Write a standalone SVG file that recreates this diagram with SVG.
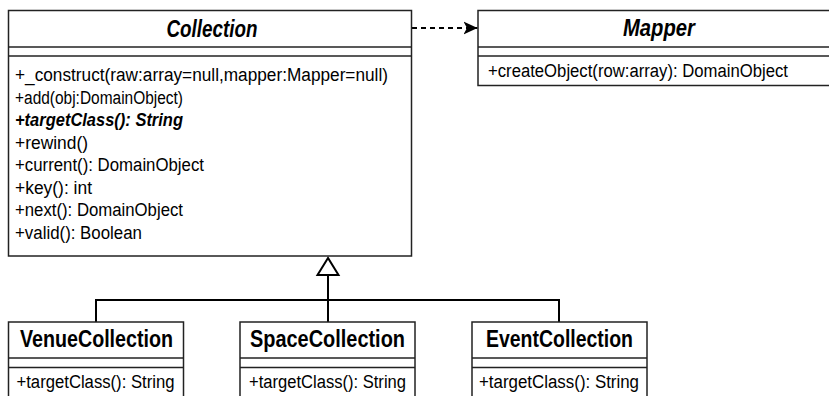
<svg xmlns="http://www.w3.org/2000/svg" width="829" height="396" viewBox="0 0 829 396">
<style>
.box{fill:#fff;stroke:#222;stroke-width:1.5}
.sep{stroke:#222;stroke-width:1.5}
.t{font-family:"Liberation Sans Narrow","Liberation Sans",Arial,sans-serif;font-size:18px;fill:#000}
.title{font-family:"Liberation Sans Narrow","Liberation Sans",Arial,sans-serif;font-size:23px;font-weight:bold;fill:#000;text-anchor:middle}
.it{font-style:italic}
.b{font-weight:bold}
.conn{fill:none;stroke:#000;stroke-width:2}
</style>
<defs>
<marker id="arr" markerWidth="15" markerHeight="14" refX="14" refY="7" orient="auto" markerUnits="userSpaceOnUse">
<path d="M0,0.5 L14,7 L0,13.5 L3.5,7 Z" fill="#000"/>
</marker>
</defs>
<g id="connectors">
<line class="conn" x1="412" y1="28" x2="477.5" y2="28" stroke-dasharray="5,4" marker-end="url(#arr)"/>
<polyline class="conn" points="96,322 96,300 559,300 559,322"/>
<line class="conn" x1="328" y1="275" x2="328" y2="322"/>
<polygon points="328,258 317.5,275 338.5,275" fill="#fff" stroke="#000" stroke-width="2"/>
</g>
<g id="Collection">
<rect class="box" x="8.5" y="10.5" width="403" height="245.5"/>
<line class="sep" x1="8.5" y1="47" x2="411.5" y2="47"/>
<line class="sep" x1="8.5" y1="56" x2="411.5" y2="56"/>
<text class="title it" x="212" y="36.5" textLength="91" lengthAdjust="spacingAndGlyphs">Collection</text>
<text class="t" x="15" y="81" textLength="373" lengthAdjust="spacingAndGlyphs">+_construct(raw:array=null,mapper:Mapper=null)</text>
<text class="t" x="15" y="103.5" textLength="168" lengthAdjust="spacingAndGlyphs">+add(obj:DomainObject)</text>
<text class="t it b" x="15" y="126" textLength="168" lengthAdjust="spacingAndGlyphs">+targetClass(): String</text>
<text class="t" x="15" y="148.5" textLength="73" lengthAdjust="spacingAndGlyphs">+rewind()</text>
<text class="t" x="15" y="171" textLength="189" lengthAdjust="spacingAndGlyphs">+current(): DomainObject</text>
<text class="t" x="15" y="193.5" textLength="77" lengthAdjust="spacingAndGlyphs">+key(): int</text>
<text class="t" x="15" y="216" textLength="168" lengthAdjust="spacingAndGlyphs">+next(): DomainObject</text>
<text class="t" x="15" y="238.5" textLength="127" lengthAdjust="spacingAndGlyphs">+valid(): Boolean</text>
</g>
<g id="Mapper">
<rect class="box" x="478" y="10.5" width="362" height="75"/>
<line class="sep" x1="478" y1="47" x2="840" y2="47"/>
<line class="sep" x1="478" y1="56" x2="840" y2="56"/>
<text class="title it" x="659" y="35.5" textLength="72" lengthAdjust="spacingAndGlyphs">Mapper</text>
<text class="t" x="488" y="77" textLength="300" lengthAdjust="spacingAndGlyphs">+createObject(row:array): DomainObject</text>
</g>
<g id="VenueCollection">
<rect class="box" x="8.5" y="322" width="175" height="80"/>
<line class="sep" x1="8.5" y1="358" x2="183.5" y2="358"/>
<line class="sep" x1="8.5" y1="367.5" x2="183.5" y2="367.5"/>
<text class="title" x="96.5" y="347" textLength="153" lengthAdjust="spacingAndGlyphs">VenueCollection</text>
<text class="t" x="16.5" y="388" textLength="158" lengthAdjust="spacingAndGlyphs">+targetClass(): String</text>
</g>
<g id="SpaceCollection">
<rect class="box" x="240" y="322" width="175" height="80"/>
<line class="sep" x1="240" y1="358" x2="415" y2="358"/>
<line class="sep" x1="240" y1="367.5" x2="415" y2="367.5"/>
<text class="title" x="327.5" y="347" textLength="155" lengthAdjust="spacingAndGlyphs">SpaceCollection</text>
<text class="t" x="249" y="388" textLength="157" lengthAdjust="spacingAndGlyphs">+targetClass(): String</text>
</g>
<g id="EventCollection">
<rect class="box" x="472" y="322" width="175" height="80"/>
<line class="sep" x1="472" y1="358" x2="647" y2="358"/>
<line class="sep" x1="472" y1="367.5" x2="647" y2="367.5"/>
<text class="title" x="559.5" y="347" textLength="147" lengthAdjust="spacingAndGlyphs">EventCollection</text>
<text class="t" x="479" y="388" textLength="160" lengthAdjust="spacingAndGlyphs">+targetClass(): String</text>
</g>
</svg>
